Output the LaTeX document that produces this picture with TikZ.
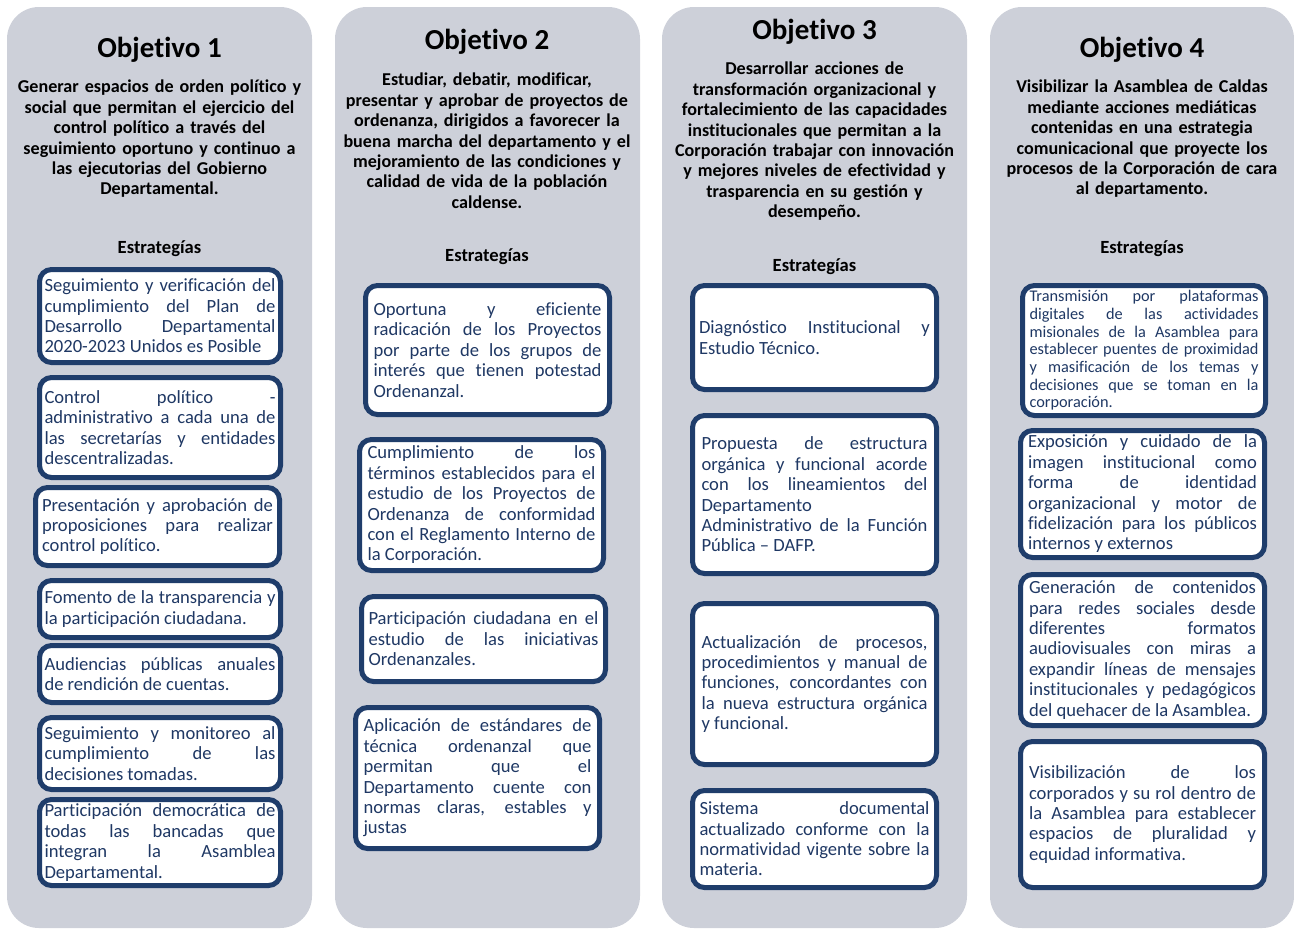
\documentclass[tikz,border=0pt]{standalone}
\usepackage{fontspec}
\setmainfont{Carlito}[Ligatures=CommonOff]
\usepackage{tikz}

\definecolor{colgray}{RGB}{205,208,217}
\definecolor{boxblue}{RGB}{31,61,107}
\definecolor{txtblue}{RGB}{31,56,100}
\hyphenpenalty=10000
\tolerance=10000
\hbadness=10000

\begin{document}
\begin{tikzpicture}[x=1pt, y=-1pt,
  colbg/.style={fill=colgray, rounded corners=32pt},
  goaltitle/.style={font=\fontsize{29}{34}\selectfont\bfseries, inner sep=0pt, anchor=base},
  goaltext/.style={font=\fontsize{18.1}{20.4}\selectfont\bfseries, align=center, text width=300pt, inner sep=0pt, anchor=north},
  stratlabel/.style={font=\fontsize{18.6}{20.4}\selectfont\bfseries, inner sep=0pt, anchor=base},
  stratbox/.style={draw=boxblue, line width=5pt, fill=white, rounded corners=12pt, text=txtblue,
    font=\fontsize{18.6}{20.4}\selectfont, align=justify, text width=228pt, minimum width=244pt, inner sep=0pt},
  smalltext/.style={font=\fontsize{16.3}{17.7}\selectfont}]
  \useasboundingbox (0,0) rectangle (1294,930);

  % columns
  \fill[colbg] (7,7) rectangle (312,928);
  \fill[colbg] (335,7) rectangle (640,928);
  \fill[colbg] (662,7) rectangle (967,928);
  \fill[colbg] (990,7) rectangle (1294,928);

  % objetivo 1
  \node[goaltitle] (t1) at (159.5,57) {Objetivo 1};
  \node[goaltext] (g1) at (159.5,80) {Generar espacios de orden político y\\social que permitan el ejercicio del\\control político a través del\\seguimiento oportuno y continuo a\\las ejecutorias del Gobierno\\Departamental.};
  \node[stratlabel] (e1) at (159.5,253) {Estrategías};
  \node[stratbox, text width=231pt, minimum width=241pt, minimum height=93pt] (o1s1) at (160,316)
    {Seguimiento y verificación del\linebreak cumplimiento del Plan de\linebreak Desarrollo Departamental\linebreak 2020-2023 Unidos es Posible};
  \node[stratbox, text width=231pt, minimum width=241pt, minimum height=100pt] (o1s2) at (160,427.5)
    {Control político -\linebreak administrativo a cada una de\linebreak las secretarías y entidades\linebreak descentralizadas.};
  \node[stratbox, text width=231pt, minimum width=244pt, minimum height=78pt] (o1s3) at (157.5,526.5)
    {Presentación y aprobación de\linebreak proposiciones para realizar\linebreak control político.};
  \node[stratbox, text width=231pt, minimum width=241pt, minimum height=57pt] (o1s4) at (160,609)
    {Fomento de la transparencia y\linebreak la participación ciudadana.};
  \node[stratbox, text width=231pt, minimum width=241pt, minimum height=57pt] (o1s5) at (160,674)
    {Audiencias públicas anuales\linebreak de rendición de cuentas.};
  \node[stratbox, text width=231pt, minimum width=241pt, minimum height=72pt] (o1s6) at (160,753.5)
    {Seguimiento y monitoreo al\linebreak cumplimiento de las\linebreak decisiones tomadas.};
  \node[stratbox, text width=231pt, minimum width=241pt, minimum height=86pt] (o1s7) at (160,842.5)
    {Participación democrática de\linebreak todas las bancadas que\linebreak integran la Asamblea\linebreak Departamental.};

  % objetivo 2
  \node[goaltitle] (t2) at (487,49) {Objetivo 2};
  \node[goaltext] (g2) at (487,73) {Estudiar, debatir, modificar,\\presentar y aprobar de proyectos de\\ordenanza, dirigidos a favorecer la\\buena marcha del departamento y el\\mejoramiento de las condiciones y\\calidad de vida de la población\\caldense.};
  \node[stratlabel] (e2) at (487,261) {Estrategías};
  \node[stratbox, minimum height=129pt] (o2s1) at (487.5,350)
    {Oportuna y eficiente\linebreak radicación de los Proyectos\linebreak por parte de los grupos de\linebreak interés que tienen potestad\linebreak Ordenanzal.};
  \node[stratbox, minimum height=131pt] (o2s2) at (481.5,505)
    {Cumplimiento de los\linebreak términos establecidos para el\linebreak estudio de los Proyectos de\linebreak Ordenanza de conformidad\linebreak con el Reglamento Interno de\linebreak la Corporación.};
  \node[stratbox, text width=230pt, minimum height=85pt] (o2s3) at (483.5,639)
    {Participación ciudadana en el\linebreak estudio de las iniciativas\linebreak Ordenanzales.};
  \node[stratbox, minimum height=141pt] (o2s4) at (477.5,778)
    {Aplicación de estándares de\linebreak técnica ordenanzal que\linebreak permitan que el\linebreak Departamento cuente con\linebreak normas claras, estables y\linebreak justas};

  % objetivo 3
  \node[goaltitle] (t3) at (814.5,39) {Objetivo 3};
  \node[goaltext] (g3) at (814.5,62) {Desarrollar acciones de\\transformación organizacional y\\fortalecimiento de las capacidades\\institucionales que permitan a la\\Corporación trabajar con innovación\\y mejores niveles de efectividad y\\trasparencia en su gestión y\\desempeño.};
  \node[stratlabel] (e3) at (814.5,271) {Estrategías};
  \node[stratbox, text width=231pt, minimum height=104pt] (o3s1) at (814.5,337.5)
    {Diagnóstico Institucional y\linebreak Estudio Técnico.};
  \node[stratbox, text width=226pt, minimum height=158pt] (o3s2) at (814.5,494.5)
    {Propuesta de estructura\linebreak orgánica y funcional acorde\linebreak con los lineamientos del\linebreak Departamento\linebreak Administrativo de la Función\linebreak Pública – DAFP.};
  \node[stratbox, text width=226pt, minimum height=161pt] (o3s3) at (814.5,684)
    {Actualización de procesos,\linebreak procedimientos y manual de\linebreak funciones, concordantes con\linebreak la nueva estructura orgánica\linebreak y funcional.};
  \node[stratbox, text width=230pt, minimum height=97pt] (o3s4) at (814.5,839)
    {Sistema documental\linebreak actualizado conforme con la\linebreak normatividad vigente sobre la\linebreak materia.};

  % objetivo 4
  \node[goaltitle] (t4) at (1142,57) {Objetivo 4};
  \node[goaltext] (g4) at (1142,80) {Visibilizar la Asamblea de Caldas\\mediante acciones mediáticas\\contenidas en una estrategia\\comunicacional que proyecte los\\procesos de la Corporación de cara\\al departamento.};
  \node[stratlabel] (e4) at (1142,253) {Estrategías};
  \node[stratbox, smalltext, text width=229pt, minimum width=243pt, minimum height=130pt] (o4s1) at (1144,350.5)
    {Transmisión por plataformas\linebreak digitales de las actividades\linebreak misionales de la Asamblea para\linebreak establecer puentes de proximidad\linebreak y masificación de los temas y\linebreak decisiones que se toman en la\linebreak corporación.};
  \node[stratbox, text width=229pt, minimum height=127pt] (o4s2) at (1142.5,494)
    {Exposición y cuidado de la\linebreak imagen institucional como\linebreak forma de identidad\linebreak organizacional y motor de\linebreak fidelización para los públicos\linebreak internos y externos};
  \node[stratbox, text width=227pt, minimum height=151pt] (o4s3) at (1142.5,650)
    {Generación de contenidos\linebreak para redes sociales desde\linebreak diferentes formatos\linebreak audiovisuales con miras a\linebreak expandir líneas de mensajes\linebreak institucionales y pedagógicos\linebreak del quehacer de la Asamblea.};
  \node[stratbox, text width=227pt, minimum height=146pt] (o4s4) at (1142.5,814.5)
    {Visibilización de los\linebreak corporados y su rol dentro de\linebreak la Asamblea para establecer\linebreak espacios de pluralidad y\linebreak equidad informativa.};
\end{tikzpicture}
\end{document}
